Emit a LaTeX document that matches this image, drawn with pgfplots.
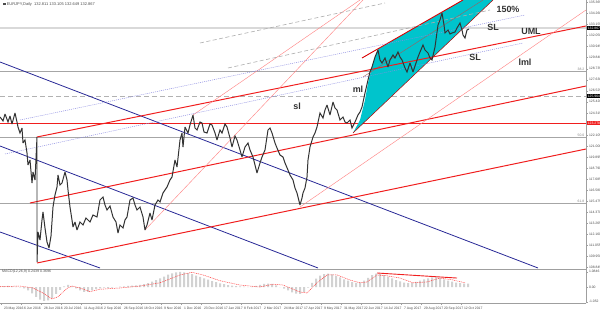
\documentclass[border=0pt]{standalone}
\usepackage{fontspec}
\setmainfont{Liberation Sans}
\usepackage{pgfplots}
\pgfplotsset{compat=1.18}
\usepackage{pgfplotstable}
\definecolor{navyline}{RGB}{40,40,150}
\definecolor{chcyan}{RGB}{0,196,204}
\definecolor{pinkline}{RGB}{255,135,135}
\definecolor{lav}{RGB}{140,140,225}
\definecolor{fibred}{RGB}{240,30,30}

\pgfplotstableread{
x p
0 123.9
3 123.5
5 124.2
8 123.4
10 124.0
12 123.2
15 124.3
17 123.4
18 122.9
20 122.3
22 122.8
23 121.3
25 121.6
27 120.3
28 119.1
30 119.6
32 117.3
33 118.4
35 117.6
37 121.9
37 109.4
38 112.4
40 111.6
42 113.6
43 114.4
45 112.8
47 111.4
49 110.8
51 112.0
53 114.9
55 116.1
57 116.9
58 118.1
60 117.1
62 117.3
65 118.4
67 117.6
68 116.6
70 114.9
72 113.6
73 112.9
75 113.4
77 112.6
80 113.4
83 113.1
86 113.8
90 113.4
93 114.1
97 113.9
100 115.6
103 115.9
105 115.1
107 114.6
110 115.0
113 113.9
116 113.4
118 112.3
120 113.1
123 112.8
125 113.6
127 113.9
130 115.6
133 115.8
135 115.1
137 114.6
140 114.9
143 113.9
145 112.6
147 113.1
150 114.3
152 113.6
155 115.1
158 115.6
160 115.4
163 116.3
167 116.9
170 117.6
172 117.9
175 119.6
177 118.9
180 121.6
182 122.3
183 120.9
185 122.9
188 122.3
190 123.1
193 124.1
195 122.8
197 122.6
200 123.4
202 123.3
204 122.4
207 122.3
210 123.2
212 123.1
215 122.3
217 121.6
220 122.6
222 122.3
225 123.2
227 122.9
230 121.8
232 120.9
235 122.0
237 121.6
240 120.6
242 119.9
245 120.9
248 121.3
250 120.6
253 119.9
255 119.1
257 118.3
260 119.3
262 119.9
265 120.6
268 122.6
270 122.8
272 122.3
275 121.3
277 120.8
280 120.1
283 119.9
285 119.3
288 118.6
290 118.1
293 117.6
295 116.8
297 116.3
300 115.1
302 115.8
303 116.3
305 116.8
307 117.9
308 119.6
310 120.9
313 121.9
315 122.3
317 122.9
320 124.3
323 123.8
325 124.6
327 125.1
330 124.1
333 125.4
335 124.8
337 124.6
340 123.6
343 123.9
345 123.4
347 123.3
350 123.6
352 122.8
355 123.4
358 124.1
360 124.4
362 124.9
365 126.3
368 127.6
370 128.4
372 128.9
375 129.9
378 130.6
380 129.6
382 129.3
385 129.8
388 128.9
390 129.6
393 130.1
395 129.8
398 130.4
400 129.9
402 129.6
405 128.8
407 128.4
410 129.3
413 128.4
415 129.0
418 129.9
420 130.4
423 131.1
425 130.6
428 130.3
430 129.8
432 129.6
435 130.9
438 133.1
440 133.6
442 134.3
444 133.1
445 132.3
448 132.6
450 132.2
452 132.3
455 132.4
457 132.8
460 133.3
462 132.6
463 132.1
465 131.8
467 132.6
469 132.7
}\price

\pgfplotstableread{
x v
0 0.05
4 0.06
8 0.08
12 0.05
16 0.02
20 -0.02
24 -0.10
28 -0.25
32 -0.45
36 -0.70
40 -0.90
44 -1.00
48 -0.95
52 -0.80
56 -0.50
60 -0.20
64 0.05
68 0.15
72 0.05
76 -0.10
80 -0.25
84 -0.35
88 -0.35
92 -0.25
96 -0.15
100 -0.10
104 -0.05
108 -0.08
112 -0.05
116 0.00
120 0.02
124 0.05
128 0.08
132 0.10
136 0.12
140 0.15
144 0.20
148 0.28
152 0.38
156 0.50
160 0.62
164 0.75
168 0.88
172 0.98
176 1.05
180 1.08
184 1.05
188 1.00
192 0.92
196 0.82
200 0.72
204 0.62
208 0.52
212 0.42
216 0.34
220 0.26
224 0.20
228 0.14
232 0.10
236 0.06
240 0.04
244 0.02
248 0.00
252 0.02
256 0.08
260 0.15
264 0.22
268 0.25
272 0.22
276 0.12
280 0.00
284 -0.12
288 -0.25
292 -0.38
296 -0.48
300 -0.50
304 -0.35
308 -0.05
312 0.30
316 0.60
320 0.82
324 0.92
328 0.95
332 0.90
336 0.80
340 0.68
344 0.55
348 0.45
352 0.35
356 0.30
360 0.32
364 0.45
368 0.65
372 0.85
376 0.95
380 0.92
384 0.85
388 0.75
392 0.62
396 0.50
400 0.40
404 0.32
408 0.28
412 0.30
416 0.36
420 0.45
424 0.55
428 0.62
432 0.68
436 0.70
440 0.65
444 0.55
448 0.45
452 0.38
456 0.32
460 0.28
464 0.25
468 0.24
}\hist

\pgfplotstableread{
x v
0 0.02
20 0.07
33 -0.07
43 -0.43
52 -0.86
58 -0.70
67 -0.10
72 0.07
80 -0.07
90 -0.33
100 -0.16
120 -0.07
140 0.07
160 0.30
180 0.86
192 1.05
203 0.86
220 0.45
240 0.14
260 0.00
273 0.20
283 0.14
300 -0.36
307 -0.43
317 0.30
327 0.86
337 0.86
350 0.50
360 0.30
367 0.36
377 0.86
387 0.80
400 0.64
413 0.30
427 0.36
440 0.64
453 0.50
465 0.30
}\signal

\newcommand{\tinyf}{\fontsize{3.4}{4}\selectfont}
\newcommand{\lbl}{\fontsize{9}{10}\selectfont\bfseries}

\begin{document}
\begin{tikzpicture}
\useasboundingbox (0,0) rectangle (600bp,313bp);
\begin{axis}[
  at={(0bp,44bp)}, anchor=south west,
  scale only axis, width=586bp, height=269bp,
  xmin=0, xmax=586, ymin=108.7, ymax=135.6,
  axis x line*=bottom, axis y line*=right,
  axis line style={gray!75, line width=0.6pt},
  xtick=\empty,
  ytick={108.845,109.950,111.055,112.160,113.265,114.370,115.475,116.580,117.685,118.790,119.895,121.000,122.105,123.210,124.315,125.420,126.525,127.630,128.735,129.840,130.945,132.050,133.155,134.260,135.365},
  yticklabels={108.845,109.950,111.055,112.160,113.265,114.370,115.475,116.580,117.685,118.790,119.895,121.000,122.105,123.210,124.315,125.420,126.525,127.630,128.735,129.840,130.945,132.050,133.155,134.260,135.365},
  yticklabel style={font=\tinyf, text=black!70, xshift=-2bp},
  tick align=outside, major tick length=1.5bp, tick style={gray!75},
  clip mode=individual,
]
% horizontal levels
\addplot[gray!30, line width=1.6pt] coordinates {(0,132.8) (586,132.8)};
\addplot[gray!70, line width=0.7pt] coordinates {(0,128.5) (586,128.5)};
\addplot[gray!60, line width=0.7pt, dash pattern=on 5bp off 3bp] coordinates {(0,126.0) (586,126.0)};
\addplot[fibred, line width=0.8pt] coordinates {(0,123.3) (586,123.3)};
\addplot[gray!70, line width=0.7pt] coordinates {(0,121.9) (586,121.9)};
\addplot[gray!70, line width=0.7pt] coordinates {(0,115.3) (586,115.3)};
% cyan channel
\addplot[fill=chcyan, draw=none] coordinates {(353,122.3) (360,123.6) (365,125.6) (368,127.3) (373,129.3) (378,130.7) (463,135.6) (493,135.6) (353,122.3)};
\addplot[red!85!black, line width=0.9pt] coordinates {(362,129.8) (463,135.6)};
\addplot[red!70!black, line width=0.5pt] coordinates {(353,122.3) (493,135.6)};
\addplot[gray!70!red, line width=0.4pt] coordinates {(363,127.9) (483,135.6)};
% blue descending lines
\addplot[navyline, line width=0.8pt] coordinates {(0,129.4) (538,108.8)};
\addplot[navyline, line width=0.8pt] coordinates {(0,121.0) (318,108.8)};
\addplot[navyline, line width=0.8pt] coordinates {(0,112.4) (100,108.8)};
% pitchfork red lines
\addplot[fibred, line width=1.0pt] coordinates {(37,121.9) (586,133.0)};
\addplot[fibred, line width=1.0pt] coordinates {(30,115.3) (586,127.0)};
\addplot[fibred, line width=1.0pt] coordinates {(37,109.3) (586,120.7)};
% thin pink lines
\addplot[pinkline, line width=0.45pt] coordinates {(145,112.6) (363,135.6)};
\addplot[pinkline, line width=0.45pt] coordinates {(193,124.1) (360,135.6)};
\addplot[pinkline, line width=0.45pt] coordinates {(300,114.9) (586,134.6)};
% dashed grey
\addplot[gray!65, line width=0.6pt, dash pattern=on 4bp off 2.5bp] coordinates {(200,131.3) (385,135.3)};
\addplot[gray!65, line width=0.6pt, dash pattern=on 4bp off 2.5bp] coordinates {(228,128.8) (490,134.6)};
% lavender dotted
\addplot[lav, line width=0.5pt, dash pattern=on 1bp off 1bp] coordinates {(20,123.6) (525,134.1)};
\addplot[lav, line width=0.5pt, dash pattern=on 1bp off 1bp] coordinates {(5,120.2) (523,131.3)};
% price
\addplot[black!80, line width=1.0pt, line join=miter, miter limit=3] table {\price};
% labels
\node[text=black!80, font=\lbl] at (axis cs:508,134.7) {150\%};
\node[text=black!80, font=\lbl] at (axis cs:493,132.9) {SL};
\node[text=black!80, font=\lbl] at (axis cs:531,132.5) {UML};
\node[text=black!80, font=\lbl] at (axis cs:475,129.9) {SL};
\node[text=black!80, font=\lbl] at (axis cs:525,129.4) {lml};
\node[text=black!80, font=\lbl] at (axis cs:358,126.7) {ml};
\node[text=black!80, font=\lbl] at (axis cs:297,125.0) {sl};
\node[text=gray, font=\tinyf, anchor=south east, inner sep=0.5bp] at (axis cs:585,128.5) {38.2};
\node[text=gray, font=\tinyf, anchor=south east, inner sep=0.5bp] at (axis cs:585,121.9) {50.0};
\node[text=gray, font=\tinyf, anchor=south east, inner sep=0.5bp] at (axis cs:585,115.3) {61.8};
\node[fill=black, text=white, font=\tinyf, anchor=west, inner sep=0.6bp] at (axis cs:587,132.8) {132.867};
\node[fill=black, text=white, font=\tinyf, anchor=west, inner sep=0.6bp] at (axis cs:587,126.0) {125.964};
\node[fill=fibred, text=white, font=\tinyf, anchor=west, inner sep=0.6bp] at (axis cs:587,123.3) {123.278};
\end{axis}
\node[anchor=north west, font=\fontsize{4}{5}\selectfont, text=black!70, inner sep=0pt] at (3bp,311bp) {\rule{2.5bp}{2.5bp}\ EURJPY,Daily\ \ 132.811 133.105 132.649 132.867};

\begin{axis}[
  at={(0bp,10bp)}, anchor=south west,
  scale only axis, width=586bp, height=34bp,
  xmin=0, xmax=586, ymin=-1.143, ymax=1.286,
  axis x line*=bottom, axis y line*=right,
  axis line style={gray!75, line width=0.6pt},
  xtick={1,21,41,61,81,101,121,141,161,181,201,221,241,261,281,301,321,341,361,381,401,421,441,461},
  xticklabels={23 May 2016,6 Jun 2016,28 Jun 2016,20 Jul 2016,11 Aug 2016,2 Sep 2016,26 Sep 2016,18 Oct 2016,9 Nov 2016,1 Dec 2016,23 Dec 2016,17 Jan 2017,8 Feb 2017,2 Mar 2017,24 Mar 2017,17 Apr 2017,9 May 2017,31 May 2017,22 Jun 2017,14 Jul 2017,7 Aug 2017,29 Aug 2017,20 Sep 2017,12 Oct 2017},
  xticklabel style={font=\tinyf, text=black!70, anchor=north west, xshift=-0.5bp, yshift=1bp},
  ytick={-1.052,0,1.085},
  yticklabels={-1.052,0.00,1.0846},
  yticklabel style={font=\tinyf, text=black!70, xshift=-2bp},
  tick align=outside, major tick length=1.5bp, tick style={gray!75},
  clip mode=individual,
]
\addplot[ybar, bar width=2bp, fill=gray!35, draw=none] table {\hist};
\addplot[red!75, line width=0.5pt, dash pattern=on 1bp off 0.8bp] table {\signal};
\addplot[fibred, line width=0.9pt] coordinates {(377,1.0) (457,0.64)};
\end{axis}
\node[anchor=north west, font=\fontsize{3.6}{4}\selectfont, text=black!70, inner sep=0pt] at (2bp,43bp) {MACD(12,26,9) 0.2439 0.3696};
\end{tikzpicture}
\end{document}
